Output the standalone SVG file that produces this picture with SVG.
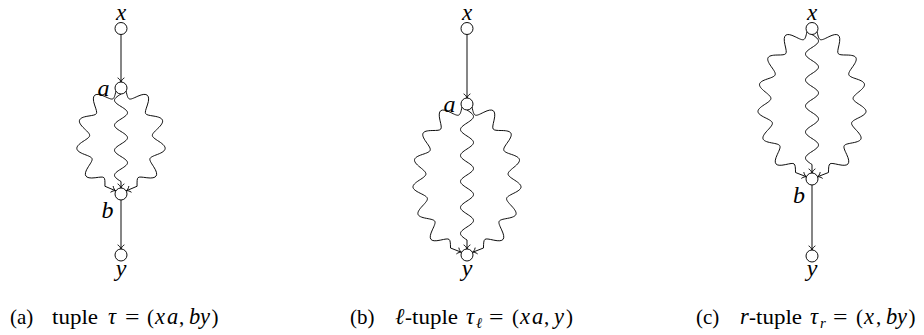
<svg xmlns="http://www.w3.org/2000/svg" width="924" height="335" viewBox="0 0 924 335">
<style>
.n{fill:#fff;stroke:#000;stroke-width:0.95}
.e{fill:none;stroke:#000;stroke-width:0.95;marker-end:url(#ah)}
.lbl{font-style:italic;font-size:24px;text-anchor:middle;fill:#000}
.top{font-size:23px}
.cap{font-size:21px;fill:#000}
.m{font-style:italic;font-size:22.5px}
</style>
<defs>
<marker id="ah" markerUnits="userSpaceOnUse" orient="auto" refX="0" refY="0" markerWidth="10" markerHeight="10" overflow="visible">
<path d="M-4.2,-3.4 C-3,-1.2 -1,-0.3 0,0 C-1,0.3 -3,1.2 -4.2,3.4" fill="none" stroke="#000" stroke-width="0.85"/>
</marker>
<path id="shortL" d="M-5,3 C-7.43,12.99 -7.51,12.42 -16.88,8.18 C-26.25,3.94 -29.74,7.25 -26.40,16.97 C-23.06,26.69 -22.86,26.53 -33.01,28.13 C-43.16,29.73 -44.26,33.47 -36.79,40.53 C-29.32,47.59 -29.34,47.90 -37.98,53.46 C-46.62,59.02 -46.25,62.73 -36.64,66.37 C-27.03,70.01 -27.07,70.12 -32.67,78.73 C-38.27,87.34 -36.01,91.08 -25.82,89.74 C-15.63,88.40 -16.03,88.00 -16.07,98.26 L-5.3,102.8"/>
<path id="longL" d="M-5,3 C-7.19,13.04 -7.65,12.82 -16.86,8.22 C-26.07,3.62 -29.40,6.19 -27.05,16.19 C-24.70,26.19 -24.59,26.41 -34.87,26.53 C-45.15,26.65 -46.78,29.72 -40.79,38.07 C-34.80,46.42 -34.89,47.25 -44.65,50.48 C-54.41,53.71 -54.95,56.84 -46.93,63.27 C-38.91,69.70 -39.08,70.69 -47.74,76.23 C-56.40,81.77 -56.11,84.67 -46.87,89.19 C-37.63,93.71 -37.54,94.46 -44.55,101.97 C-51.56,109.48 -50.71,112.49 -40.60,114.34 C-30.49,116.19 -30.25,116.56 -34.63,125.86 C-39.01,135.16 -36.80,138.32 -26.75,136.15 C-16.70,133.98 -16.74,133.74 -16.46,144.02 L-5.5,148.3"/>
</defs>
<g id="connectors">
<path class="e" d="M121,34.5 V82"/>
<path class="e" d="M121,200 V249"/>
<path class="e" d="M121,94 c-8.67,5.3 -8.67,7.2 0,12.5 s8.67,7.2 0,12.5 s-8.67,7.2 0,12.5 s8.67,7.2 0,12.5 s-8.67,7.2 0,12.5 s8.67,7.2 0,12.5 s-8.67,7.2 0,12.5 l0,6.5"/>
<use href="#shortL" class="e" transform="translate(121,88)"/>
<use href="#shortL" class="e" transform="translate(121,88) scale(-1,1)"/>
<path class="e" d="M467,34.5 V98"/>
<path class="e" d="M467,110 c8.67,5.52 8.67,7.48 0,13 s-8.67,7.48 0,13 s8.67,7.48 0,13 s-8.67,7.48 0,13 s8.67,7.48 0,13 s-8.67,7.48 0,13 s8.67,7.48 0,13 s-8.67,7.48 0,13 s8.67,7.48 0,13 s-8.67,7.48 0,13 l0,9"/>
<use href="#longL" class="e" transform="translate(467,104)"/>
<use href="#longL" class="e" transform="translate(467,104) scale(-1,1)"/>
<path class="e" d="M812,185 V250"/>
<path class="e" d="M812,34.5 c8.67,5.52 8.67,7.48 0,13 s-8.67,7.48 0,13 s8.67,7.48 0,13 s-8.67,7.48 0,13 s8.67,7.48 0,13 s-8.67,7.48 0,13 s8.67,7.48 0,13 s-8.67,7.48 0,13 s8.67,7.48 0,13 s-8.67,7.48 0,13 l0,8.5"/>
<use href="#longL" class="e" transform="translate(812,28.5)"/>
<use href="#longL" class="e" transform="translate(812,28.5) scale(-1,1)"/>
</g>
<g font-family="Liberation Serif, Times New Roman, serif">
<g id="a-x"><circle class="n" cx="121" cy="28.5" r="6"/><text class="lbl top" x="121" y="19.5">x</text></g>
<g id="a-a"><circle class="n" cx="121" cy="88" r="6"/><text class="lbl" x="103.5" y="95.5">a</text></g>
<g id="a-b"><circle class="n" cx="121" cy="194" r="6"/><text class="lbl" x="107.5" y="218">b</text></g>
<g id="a-y"><circle class="n" cx="121" cy="255" r="6"/><text class="lbl" x="121" y="276">y</text></g>
<g id="b-x"><circle class="n" cx="467" cy="28.5" r="6"/><text class="lbl top" x="467" y="19.5">x</text></g>
<g id="b-a"><circle class="n" cx="467" cy="104" r="6"/><text class="lbl" x="449.5" y="111.5">a</text></g>
<g id="b-y"><circle class="n" cx="467" cy="255" r="6"/><text class="lbl" x="467" y="276">y</text></g>
<g id="c-x"><circle class="n" cx="812" cy="28.5" r="6"/><text class="lbl top" x="812" y="19.5">x</text></g>
<g id="c-b"><circle class="n" cx="812" cy="179" r="6"/><text class="lbl" x="799" y="203">b</text></g>
<g id="c-y"><circle class="n" cx="812" cy="256" r="6"/><text class="lbl" x="812" y="276">y</text></g>
<g id="captions" class="cap">
<text y="324"><tspan x="10">(a)</tspan><tspan x="52" textLength="46" lengthAdjust="spacingAndGlyphs">tuple</tspan><tspan x="108" class="m">τ</tspan><tspan x="125" textLength="14.5" lengthAdjust="spacingAndGlyphs">=</tspan><tspan x="147">(</tspan><tspan x="155" class="m">x</tspan><tspan x="167" class="m">a</tspan><tspan x="179">,</tspan><tspan x="189" class="m">b</tspan><tspan x="200" class="m">y</tspan><tspan x="211.5">)</tspan></text>
<text y="324"><tspan x="350">(b)</tspan><tspan x="395" class="m">ℓ</tspan><tspan x="405">-</tspan><tspan x="412" textLength="46" lengthAdjust="spacingAndGlyphs">tuple</tspan><tspan x="466" class="m">τ</tspan><tspan x="476" font-style="italic" font-size="15" dy="4">ℓ</tspan><tspan x="489" dy="-4" textLength="14.5" lengthAdjust="spacingAndGlyphs">=</tspan><tspan x="512">(</tspan><tspan x="520" class="m">x</tspan><tspan x="532" class="m">a</tspan><tspan x="544">,</tspan><tspan x="554" class="m">y</tspan><tspan x="566">)</tspan></text>
<text y="324"><tspan x="696">(c)</tspan><tspan x="740" class="m">r</tspan><tspan x="749">-</tspan><tspan x="756" textLength="46" lengthAdjust="spacingAndGlyphs">tuple</tspan><tspan x="810" class="m">τ</tspan><tspan x="820" font-style="italic" font-size="15" dy="4">r</tspan><tspan x="833" dy="-4" textLength="14.5" lengthAdjust="spacingAndGlyphs">=</tspan><tspan x="856">(</tspan><tspan x="864" class="m">x</tspan><tspan x="876">,</tspan><tspan x="886" class="m">b</tspan><tspan x="897" class="m">y</tspan><tspan x="908.4">)</tspan></text>
</g>
</g>
</svg>
